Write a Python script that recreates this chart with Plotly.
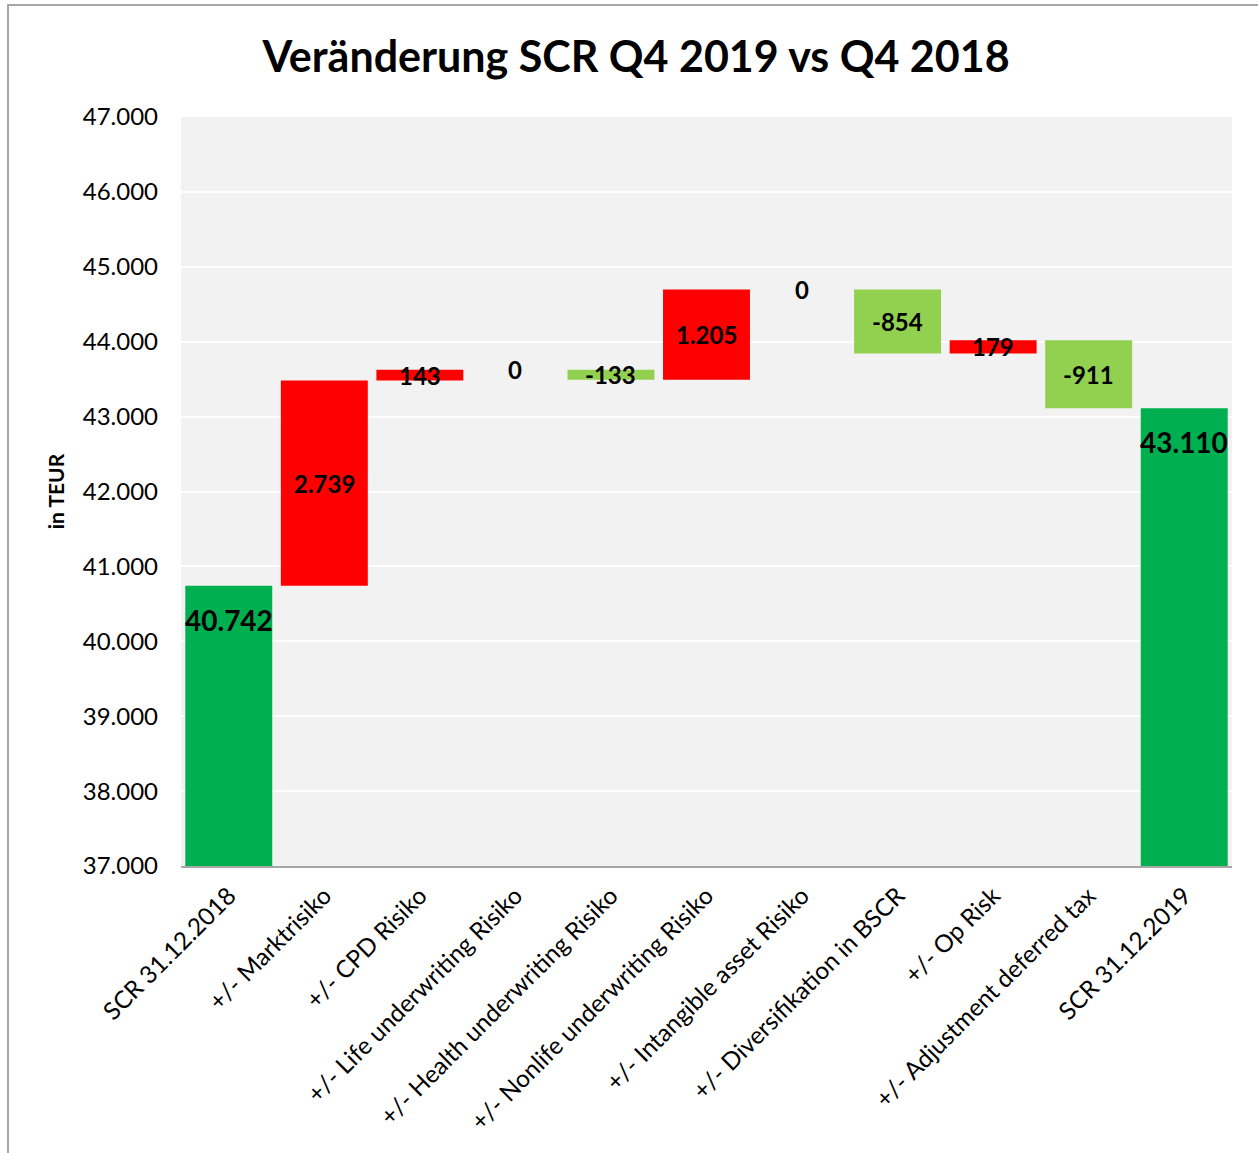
import plotly.graph_objects as go

categories = [
    "SCR 31.12.2018",
    "+/- Marktrisiko",
    "+/- CPD Risiko",
    "+/- Life underwriting Risiko",
    "+/- Health underwriting Risiko",
    "+/- Nonlife underwriting Risiko",
    "+/- Intangible asset Risiko",
    "+/- Diversifikation in BSCR",
    "+/- Op Risk",
    "+/- Adjustment deferred tax",
    "SCR 31.12.2019",
]
values = [40742, 2739, 143, 0, -133, 1205, 0, -854, 179, -911, 43110]
measures = ["absolute"] + ["relative"] * 9 + ["total"]

y_ticks = [37000, 38000, 39000, 40000, 41000, 42000, 43000, 44000, 45000, 46000, 47000]

COL_TOTAL = "#00b050"
COL_UP = "#ff0000"
COL_DOWN = "#92d050"
FONT = "Lato"

bases, heights, colors = [], [], []
running = 0
for v, m in zip(values, measures):
    if m == "relative":
        bases.append(running)
        heights.append(v)
        running += v
        colors.append(COL_UP if v >= 0 else COL_DOWN)
    else:
        bases.append(0)
        heights.append(v)
        running = v
        colors.append(COL_TOTAL)


def fmt(v):
    return f"{v:,}".replace(",", ".")


fig = go.Figure()
fig.add_trace(go.Bar(
    x=categories, y=heights, base=bases,
    marker=dict(color=colors, line=dict(width=0)),
    hoverinfo="skip", showlegend=False,
))

annotations = []
for c, b, h, m in zip(categories, bases, heights, measures):
    if m == "relative":
        annotations.append(dict(
            x=c, y=b + h / 2, xref="x", yref="y", text=fmt(h), showarrow=False,
            font=dict(family=FONT, size=24, color="#000000", weight="bold"),
            xanchor="center", yanchor="middle",
        ))
    else:
        annotations.append(dict(
            x=c, y=b + h, xref="x", yref="y", text=fmt(h), showarrow=False,
            font=dict(family=FONT, size=28, color="#000000", weight="bold"),
            xanchor="center", yanchor="middle", yshift=-34,
        ))

fig.update_layout(
    width=1258, height=1153,
    paper_bgcolor="white", plot_bgcolor="#f2f2f2",
    separators=",.",
    margin=dict(l=181, r=26, t=117, b=287),
    bargap=0.09,
    title=dict(
        text="Veränderung SCR Q4 2019 vs Q4 2018",
        x=636 / 1258, xref="container", xanchor="center",
        y=1 - 57 / 1153, yref="container", yanchor="middle",
        font=dict(family=FONT, size=43, color="#000000", weight="bold"),
    ),
    font=dict(family=FONT, color="#000000"),
    annotations=annotations,
    shapes=[dict(
        type="rect", xref="paper", yref="paper",
        x0=(8 - 181) / 1051, x1=1.2, y0=-0.6, y1=1 + (117 - 5) / 749,
        line=dict(color="#a6a6a6", width=2), fillcolor="rgba(0,0,0,0)", layer="below",
    )],
)

fig.update_yaxes(
    range=[37000, 47000], tickvals=y_ticks, tickformat=",d",
    showgrid=True, gridcolor="white", gridwidth=1.5,
    zeroline=False, showline=False, ticks="",
    ticklabelstandoff=22,
    tickfont=dict(family=FONT, size=24, color="#000000"),
    title=dict(text="in TEUR", standoff=12,
               font=dict(family=FONT, size=21, color="#000000", weight="bold")),
)
fig.update_xaxes(
    showline=True, linecolor="#a6a6a6", linewidth=2,
    ticks="", tickangle=-45, ticklabelstandoff=4,
    tickfont=dict(family=FONT, size=24.3, color="#000000"),
    showgrid=False,
)

fig.write_html("out.html", config={"displayModeBar": False},
               post_script="document.body.style.margin='0';")
